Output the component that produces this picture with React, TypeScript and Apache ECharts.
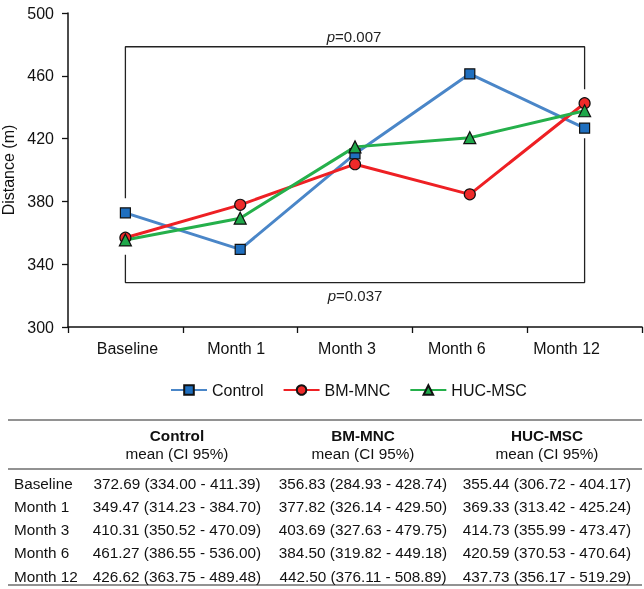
import React, { useEffect, useRef } from "react";
import * as echarts from "echarts";

const categories = ["Baseline", "Month 1", "Month 3", "Month 6", "Month 12"];
const seriesNames = ["Control", "BM-MNC", "HUC-MSC"];
const controlMean = [372.69, 349.47, 410.31, 461.27, 426.62];
const controlLow = [334.0, 314.23, 350.52, 386.55, 363.75];
const controlHigh = [411.39, 384.7, 470.09, 536.0, 489.48];
const bmMean = [356.83, 377.82, 403.69, 384.5, 442.5];
const bmLow = [284.93, 326.14, 327.63, 319.82, 376.11];
const bmHigh = [428.74, 429.5, 479.75, 449.18, 508.89];
const hucMean = [355.44, 369.33, 414.73, 420.59, 437.73];
const hucLow = [306.72, 313.42, 355.99, 370.53, 356.17];
const hucHigh = [404.17, 425.24, 473.47, 470.64, 519.29];
// significance brackets (category index, value)
const topBracket = [[0, 382], [0, 478.5], [4, 478.5], [4, 451.5]];
const bottomBracket = [[0, 346], [0, 328.3], [4, 328.3], [4, 420.3]];
const pTop = "0.007";
const pBottom = "0.037";
const yTicks = { min: 300, max: 500, interval: 40 };

const FONT = '"Liberation Sans", Arial, sans-serif';

export default function App() {
  const ref = useRef<HTMLDivElement>(null);
  useEffect(() => {
    if (!ref.current) return;
    const chart = echarts.init(ref.current, null, { renderer: "svg" });
    const fmt = (v: number) => v.toFixed(2);
    const cell = (m: number[], lo: number[], hi: number[], i: number) =>
      `${fmt(m[i])} (${fmt(lo[i])} - ${fmt(hi[i])})`;
    const colX = [177, 363, 547];
    const tableCols = [
      [controlMean, controlLow, controlHigh],
      [bmMean, bmLow, bmHigh],
      [hucMean, hucLow, hucHigh],
    ];
    const rowY = [483, 506.3, 529.5, 552.7, 576];
    const TF = 15.3;
    const graphics: any[] = [];
    const pLabel = (x: number, y: number, v: string) => ({
      type: "text", x, y,
      style: {
        text: "{i|p}=" + v,
        rich: { i: { fontStyle: "italic", fontSize: 15, fontFamily: FONT } },
        font: `15px ${FONT}`, fill: "#222", align: "center", verticalAlign: "middle",
      },
    });
    graphics.push(pLabel(354, 36, pTop), pLabel(355, 295, pBottom));
    const rule = (y: number, w: number) => ({
      type: "line", shape: { x1: 8, y1: y, x2: 642, y2: y }, style: { stroke: "#6e6e6e", lineWidth: w },
    });
    graphics.push(rule(420, 1.6), rule(469, 1.4), rule(585, 1.6));
    seriesNames.forEach((n, j) => {
      graphics.push({ type: "text", x: colX[j], y: 435, style: { text: n, font: `bold ${TF}px ${FONT}`, fill: "#111", align: "center", verticalAlign: "middle" } });
      graphics.push({ type: "text", x: colX[j], y: 453, style: { text: "mean (CI 95%)", font: `${TF}px ${FONT}`, fill: "#111", align: "center", verticalAlign: "middle" } });
    });
    categories.forEach((c, i) => {
      graphics.push({ type: "text", x: 14, y: rowY[i], style: { text: c, font: `${TF}px ${FONT}`, fill: "#111", align: "left", verticalAlign: "middle" } });
      tableCols.forEach((col, j) => {
        graphics.push({ type: "text", x: colX[j], y: rowY[i], style: { text: cell(col[0], col[1], col[2], i), font: `${TF}px ${FONT}`, fill: "#111", align: "center", verticalAlign: "middle" } });
      });
    });

    // category labels sit slightly left of their category centres in the original
    const labelPad = [[0, 0, 0, 4], [0, 8, 0, 0], [0, 16, 0, 0], [0, 26, 0, 0], [0, 36, 0, 0]];
    const rich: any = {};
    labelPad.forEach((p, i) => {
      rich["c" + i] = { fontSize: 16, color: "#111", fontFamily: FONT, padding: p };
    });

    const mk = (name: string, data: number[], line: string, fill: string, symbol: string, size: number) => ({
      name, type: "line", data, symbol, symbolSize: size, showAllSymbol: true,
      lineStyle: { color: line, width: 3 },
      itemStyle: { color: fill, borderColor: "#111", borderWidth: 1.2 },
      z: 3,
    });
    const bracket = (data: number[][]) => ({
      type: "line", data, symbol: "none", silent: true,
      lineStyle: { color: "#222", width: 1.3 }, z: 1,
    });

    chart.setOption({
      animation: false,
      textStyle: { fontFamily: FONT },
      grid: { left: 68, right: 2, top: 13, bottom: 262, containLabel: false, outerBoundsMode: "none" },
      legend: {
        data: seriesNames, left: 165, top: 377, itemWidth: 36, itemHeight: 12, itemGap: 19,
        textStyle: { fontSize: 16, color: "#111", fontFamily: FONT },
      },
      xAxis: {
        type: "category", data: categories, boundaryGap: true,
        axisLine: { lineStyle: { color: "#111", width: 1.5 } },
        axisTick: { show: true, length: 6, interval: 0, lineStyle: { color: "#111", width: 1.3 } },
        axisLabel: {
          fontSize: 16, color: "#111", margin: 13, fontFamily: FONT, interval: 0, hideOverlap: false,
          formatter: (v: string, i: number) => `{c${i}|${v}}`, rich,
        },
      },
      yAxis: {
        type: "value", min: yTicks.min, max: yTicks.max, interval: yTicks.interval,
        name: "Distance (m)", nameLocation: "middle", nameGap: 48,
        nameTextStyle: { fontSize: 16, color: "#111", fontFamily: FONT },
        axisLine: { show: true, lineStyle: { color: "#111", width: 1.5 } },
        axisTick: { show: true, length: 6, lineStyle: { color: "#111", width: 1.3 } },
        axisLabel: { fontSize: 16, color: "#111", margin: 14, fontFamily: FONT },
        splitLine: { show: false },
      },
      series: [
        bracket(topBracket),
        bracket(bottomBracket),
        mk("Control", controlMean, "#4a86c8", "#1f6fbf", "rect", 10),
        mk("BM-MNC", bmMean, "#ee2024", "#ee2a2a", "circle", 11),
        mk("HUC-MSC", hucMean, "#25b04b", "#1fa84a", "triangle", 12),
      ],
      graphic: graphics,
    });
    return () => chart.dispose();
  }, []);
  return <div ref={ref} style={{ position: "fixed", left: 0, top: 0, width: 644, height: 589 }} />;
}
